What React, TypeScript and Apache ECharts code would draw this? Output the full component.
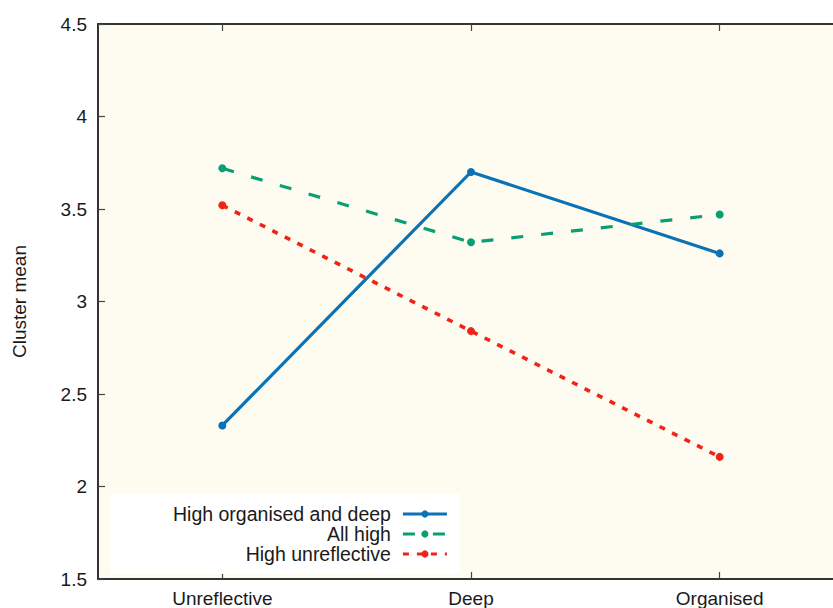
import React, { useEffect, useRef } from "react";
import * as echarts from "echarts";

const categories = ["Unreflective", "Deep", "Organised"];
const seriesNames = ["High organised and deep", "All high", "High unreflective"];
const highOrganisedDeep = [2.33, 3.7, 3.26];
const allHigh = [3.72, 3.32, 3.47];
const highUnreflective = [3.52, 2.84, 2.16];
const yTicks = { min: 1.5, max: 4.5, interval: 0.5 };

const FONT = "Liberation Sans, Arial, Helvetica, sans-serif";

export default function App() {
  const ref = useRef<HTMLDivElement>(null);
  useEffect(() => {
    if (!ref.current) return;
    const chart = echarts.init(ref.current, undefined, { renderer: "svg" });
    const axisLine = { show: true, lineStyle: { color: "#333", width: 2 } };
    const tick = { show: true, inside: true, length: 7, lineStyle: { color: "#444", width: 1.2 } };
    chart.setOption({
      animation: false,
      backgroundColor: "#ffffff",
      grid: {
        left: 98,
        top: 24,
        width: 746,
        height: 555,
        show: true,
        backgroundColor: "#fefcf0",
        borderWidth: 0,
      },
      xAxis: [
        {
          type: "category",
          data: categories,
          boundaryGap: true,
          axisLine,
          axisTick: { ...tick, alignWithLabel: true },
          axisLabel: { fontFamily: FONT, fontSize: 19, color: "#1a1a1a", margin: 10 },
          splitLine: { show: false },
        },
        {
          type: "category",
          position: "top",
          data: categories,
          boundaryGap: true,
          axisLine,
          axisTick: { ...tick, alignWithLabel: true },
          axisLabel: { show: false },
          splitLine: { show: false },
        },
      ],
      yAxis: [
        {
          type: "value",
          min: yTicks.min,
          max: yTicks.max,
          interval: yTicks.interval,
          name: "Cluster mean",
          nameLocation: "middle",
          nameGap: 69,
          nameTextStyle: { fontFamily: FONT, fontSize: 19, color: "#1a1a1a" },
          axisLine,
          axisTick: tick,
          axisLabel: { fontFamily: FONT, fontSize: 19, color: "#1a1a1a", margin: 11 },
          splitLine: { show: false },
        },
        {
          type: "value",
          position: "right",
          min: yTicks.min,
          max: yTicks.max,
          interval: yTicks.interval,
          axisLine,
          axisTick: tick,
          axisLabel: { show: false },
          splitLine: { show: false },
        },
      ],
      legend: {
        orient: "vertical",
        align: "right",
        left: 110,
        top: 494,
        padding: [10, 11, 10, 63],
        itemGap: 0,
        itemWidth: 44,
        itemHeight: 9,
        backgroundColor: "#ffffff",
        lineStyle: { width: 3.2 },
        textStyle: {
          fontFamily: FONT,
          fontSize: 19.5,
          lineHeight: 19,
          color: "#1a1a1a",
          padding: [0, 7, 0, 0],
        },
        data: seriesNames,
      },
      series: [
        {
          name: seriesNames[0],
          type: "line",
          data: highOrganisedDeep,
          symbol: "circle",
          symbolSize: 8,
          itemStyle: { color: "#0a72b5" },
          lineStyle: { color: "#0a72b5", width: 3.2, type: "solid" },
        },
        {
          name: seriesNames[1],
          type: "line",
          data: allHigh,
          symbol: "circle",
          symbolSize: 8,
          itemStyle: { color: "#0a9e73" },
          lineStyle: { color: "#0a9e73", width: 3.2, type: [12, 18] },
        },
        {
          name: seriesNames[2],
          type: "line",
          data: highUnreflective,
          symbol: "circle",
          symbolSize: 8,
          itemStyle: { color: "#ee2418" },
          lineStyle: { color: "#ee2418", width: 3.6, type: [6, 8] },
        },
      ],
    });
    return () => chart.dispose();
  }, []);
  return (
    <div style={{ position: "fixed", left: 0, top: 0, width: 833, height: 608, overflow: "hidden" }}>
      <div ref={ref} style={{ width: 870, height: 608 }} />
    </div>
  );
}
